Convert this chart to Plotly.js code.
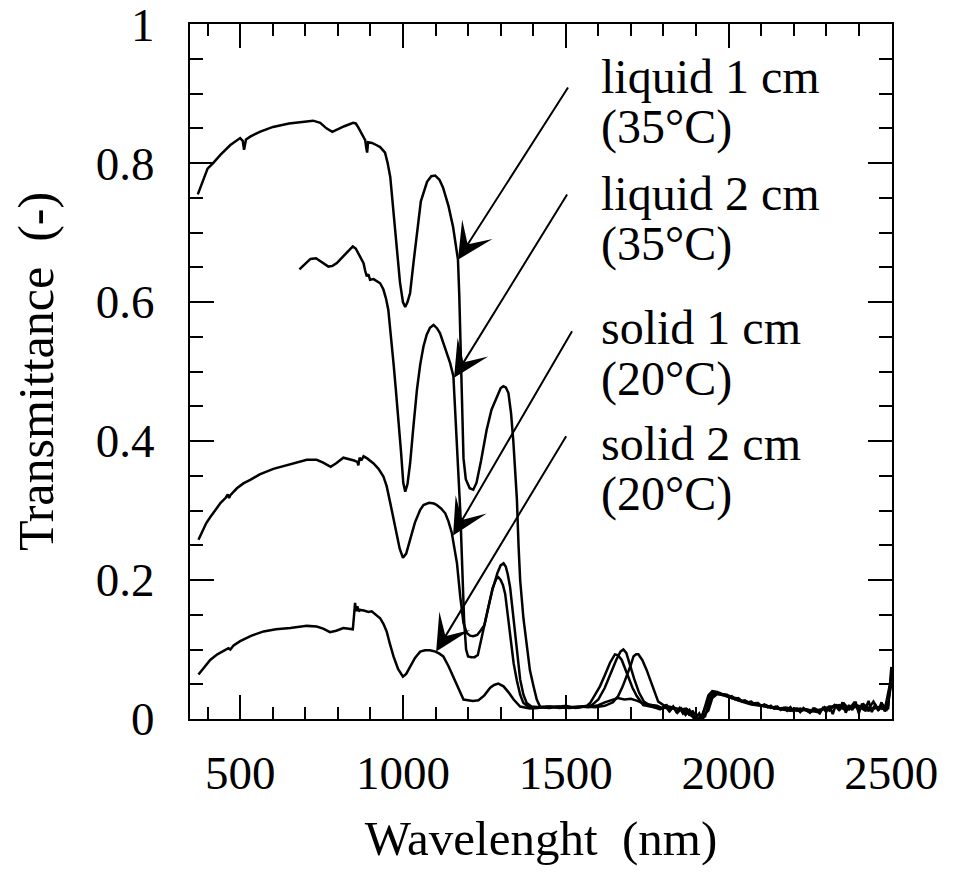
<!DOCTYPE html>
<html>
<head>
<meta charset="utf-8">
<script src="https://cdn.plot.ly/plotly-3.0.1.min.js"></script>
<style>
  html, body { margin: 0; padding: 0; background: #fff; }
  #chart { width: 961px; height: 880px; }
</style>
</head>
<body>
<div id="chart"></div>
<script>
// Transmittance spectra of the sample, liquid (35 °C) and solid (20 °C), 1 cm and 2 cm path.

const liquid1X = [370,385,400,417,440,470,500,508,512,518,531,560,601,650,700,724,746,765,783,800,820,847,855,862,875,884,888,890,893,905,918,930,945,953,961,968,976,984,991,1000,1007,1014,1022,1032,1043,1055,1074,1087,1099,1112,1123,1140,1154,1163,1169,1173,1176,1181,1186,1193,1205,1216,1226,1240,1257,1272,1288,1300,1308,1316,1324,1332,1339,1345,1350,1355,1360,1370,1380,1390,1401,1411,1421,1440,1470,1500,1530,1560,1580,1600,1620,1640,1655,1668,1677,1686,1695,1710,1725,1740,1760,1775,1790,1805,1818,1830,1843,1855,1868,1880,1892,1905,1918,1928,1938,1950,1965,1980,1995,2010,2025,2040,2055,2070,2085,2100,2115,2130,2145,2160,2175,2190,2205,2220,2235,2250,2265,2280,2295,2310,2325,2340,2355,2370,2385,2400,2415,2430,2445,2460,2475,2490,2500];
const liquid1Y = [0.755,0.775,0.792,0.800,0.812,0.826,0.836,0.832,0.819,0.834,0.838,0.845,0.852,0.857,0.860,0.861,0.858,0.850,0.845,0.849,0.853,0.858,0.857,0.852,0.842,0.833,0.820,0.815,0.830,0.829,0.826,0.823,0.815,0.800,0.780,0.745,0.700,0.660,0.628,0.600,0.593,0.600,0.613,0.655,0.700,0.745,0.773,0.781,0.782,0.776,0.765,0.738,0.708,0.682,0.661,0.610,0.556,0.450,0.375,0.345,0.332,0.330,0.340,0.372,0.416,0.445,0.464,0.476,0.479,0.477,0.469,0.440,0.400,0.360,0.316,0.250,0.200,0.145,0.104,0.070,0.047,0.028,0.018,0.017,0.018,0.016,0.017,0.018,0.020,0.028,0.045,0.068,0.085,0.097,0.100,0.095,0.080,0.058,0.038,0.025,0.019,0.017,0.014,0.019,0.011,0.017,0.009,0.015,0.006,0.013,0.002,0.000,0.003,0.018,0.034,0.040,0.039,0.036,0.035,0.031,0.030,0.026,0.025,0.022,0.023,0.019,0.020,0.016,0.018,0.014,0.016,0.012,0.015,0.011,0.014,0.010,0.015,0.011,0.017,0.012,0.020,0.013,0.022,0.014,0.023,0.012,0.021,0.015,0.025,0.013,0.020,0.014,0.075];

const liquid2X = [682,700,716,733,750,771,784,797,815,830,846,855,863,871,879,884,889,894,899,910,920,930,940,948,955,963,971,978,986,994,1001,1007,1014,1022,1032,1043,1053,1063,1073,1083,1094,1105,1114,1125,1135,1145,1155,1161,1166,1171,1176,1182,1188,1194,1200,1210,1220,1230,1245,1260,1275,1287,1293,1300,1307,1314,1322,1329,1340,1350,1360,1370,1385,1410,1440,1470,1500,1530,1560,1590,1620,1645,1661,1675,1687,1700,1708,1716,1723,1735,1748,1760,1769,1784,1800,1825,1850,1870,1888,1900,1915,1932,1942,1955,1970,1990,2010,2040,2070,2100,2130,2160,2190,2220,2250,2280,2310,2340,2370,2400,2430,2460,2485,2500];
const liquid2Y = [0.647,0.655,0.662,0.663,0.658,0.651,0.652,0.656,0.665,0.673,0.680,0.677,0.670,0.662,0.656,0.645,0.637,0.640,0.632,0.633,0.630,0.627,0.618,0.605,0.589,0.555,0.512,0.475,0.435,0.385,0.340,0.327,0.338,0.368,0.420,0.474,0.510,0.536,0.553,0.563,0.567,0.562,0.555,0.540,0.527,0.512,0.493,0.440,0.392,0.344,0.300,0.220,0.140,0.100,0.090,0.089,0.089,0.092,0.125,0.160,0.188,0.202,0.204,0.200,0.193,0.180,0.150,0.120,0.080,0.055,0.035,0.023,0.018,0.016,0.018,0.017,0.019,0.016,0.018,0.017,0.019,0.024,0.033,0.047,0.061,0.078,0.090,0.093,0.093,0.085,0.071,0.055,0.042,0.025,0.020,0.017,0.014,0.010,0.004,0.000,0.001,0.020,0.034,0.038,0.037,0.033,0.030,0.025,0.021,0.019,0.016,0.014,0.012,0.015,0.010,0.013,0.017,0.020,0.014,0.019,0.012,0.017,0.013,0.050];

const solid1X = [372,385,396,409,425,440,455,462,466,470,490,510,531,560,602,650,705,735,755,778,795,817,835,850,860,863,867,872,879,890,909,925,940,950,961,971,981,990,1000,1010,1022,1037,1053,1063,1080,1095,1104,1117,1130,1140,1150,1158,1166,1176,1186,1196,1206,1216,1228,1240,1250,1262,1275,1290,1300,1309,1316,1322,1329,1336,1344,1352,1360,1370,1380,1395,1420,1450,1480,1510,1540,1565,1575,1590,1605,1620,1636,1651,1660,1672,1682,1692,1705,1718,1738,1760,1790,1820,1845,1870,1885,1900,1920,1938,1950,1965,1985,2005,2030,2060,2090,2120,2150,2180,2210,2240,2270,2300,2330,2360,2390,2420,2450,2480,2500];
const solid1Y = [0.258,0.272,0.282,0.291,0.302,0.311,0.318,0.323,0.318,0.322,0.332,0.339,0.344,0.352,0.360,0.366,0.373,0.373,0.369,0.363,0.368,0.376,0.374,0.372,0.370,0.365,0.376,0.372,0.378,0.375,0.368,0.360,0.349,0.335,0.311,0.288,0.263,0.245,0.232,0.238,0.258,0.283,0.301,0.308,0.311,0.310,0.308,0.303,0.296,0.284,0.268,0.248,0.224,0.176,0.138,0.124,0.120,0.119,0.121,0.128,0.135,0.160,0.186,0.210,0.221,0.224,0.219,0.208,0.190,0.160,0.128,0.090,0.057,0.035,0.023,0.018,0.017,0.016,0.018,0.016,0.017,0.019,0.023,0.034,0.047,0.063,0.081,0.093,0.092,0.085,0.072,0.061,0.045,0.033,0.020,0.018,0.015,0.017,0.013,0.015,0.009,0.006,0.004,0.012,0.030,0.036,0.035,0.031,0.027,0.024,0.020,0.018,0.015,0.016,0.012,0.014,0.010,0.016,0.019,0.013,0.021,0.012,0.017,0.014,0.060];

const solid2X = [372,390,408,430,464,470,480,500,535,572,610,654,705,735,755,776,795,817,835,846,850,853,856,860,864,868,880,894,904,917,930,940,950,960,971,985,1000,1010,1022,1037,1053,1068,1083,1100,1112,1124,1140,1155,1168,1181,1186,1200,1215,1232,1250,1268,1280,1293,1309,1325,1340,1360,1390,1420,1450,1480,1510,1540,1570,1600,1620,1640,1660,1680,1700,1720,1740,1765,1780,1795,1810,1820,1830,1840,1850,1860,1870,1880,1890,1900,1910,1918,1928,1938,1948,1960,1975,1990,2000,2010,2020,2030,2040,2050,2060,2070,2080,2090,2100,2110,2120,2130,2140,2150,2160,2170,2180,2190,2200,2210,2220,2230,2240,2250,2260,2270,2280,2290,2300,2310,2320,2330,2340,2350,2360,2370,2380,2390,2400,2410,2420,2430,2440,2450,2460,2470,2480,2490,2500];
const solid2Y = [0.064,0.075,0.085,0.093,0.102,0.100,0.106,0.112,0.120,0.126,0.129,0.131,0.134,0.133,0.130,0.125,0.127,0.131,0.130,0.129,0.150,0.167,0.155,0.162,0.155,0.157,0.156,0.154,0.155,0.150,0.145,0.137,0.126,0.108,0.090,0.072,0.061,0.065,0.076,0.088,0.097,0.099,0.099,0.097,0.094,0.090,0.076,0.061,0.046,0.033,0.028,0.027,0.026,0.027,0.034,0.045,0.049,0.051,0.047,0.038,0.028,0.018,0.015,0.016,0.018,0.016,0.017,0.018,0.017,0.020,0.024,0.027,0.030,0.028,0.029,0.026,0.022,0.020,0.019,0.016,0.020,0.012,0.018,0.010,0.016,0.008,0.015,0.005,0.012,0.002,0.008,0.000,0.004,0.020,0.033,0.037,0.035,0.034,0.032,0.033,0.029,0.030,0.026,0.027,0.024,0.025,0.021,0.023,0.019,0.021,0.017,0.019,0.015,0.018,0.013,0.016,0.012,0.017,0.011,0.015,0.010,0.016,0.012,0.009,0.015,0.011,0.008,0.016,0.010,0.019,0.007,0.021,0.012,0.024,0.009,0.020,0.013,0.025,0.008,0.022,0.014,0.026,0.010,0.021,0.012,0.024,0.011,0.019,0.065];

// Labels and the arrows pointing from each label to its curve
const labelLines = [
  ['liquid 1 cm', '(35°C)'],
  ['liquid 2 cm', '(35°C)'],
  ['solid 1 cm', '(20°C)'],
  ['solid 2 cm', '(20°C)']
];
const labelX = 1603;
const labelLineY = [[0.924, 0.852], [0.756, 0.684], [0.563, 0.489], [0.396, 0.324]];
const arrowTailX = [1510, 1507, 1522, 1504];
const arrowTailY = [0.911, 0.757, 0.560, 0.409];
const arrowHeadX = [1169, 1157, 1154, 1102];
const arrowHeadY = [0.661, 0.491, 0.264, 0.097];

const serif = 'Liberation Serif, Times New Roman, serif';
const lineStyle = { color: '#000', width: 2.5 };

const traces = [
  [liquid1X, liquid1Y, 'liquid 1 cm (35°C)'],
  [liquid2X, liquid2Y, 'liquid 2 cm (35°C)'],
  [solid1X, solid1Y, 'solid 1 cm (20°C)'],
  [solid2X, solid2Y, 'solid 2 cm (20°C)']
].map(([x, y, name]) => ({
  x, y, name, type: 'scatter', mode: 'lines', line: lineStyle, hoverinfo: 'skip'
}));

const annotations = [];
labelLines.forEach((lines, i) => {
  lines.forEach((t, j) => {
    annotations.push({
      x: labelX, y: labelLineY[i][j], xref: 'x', yref: 'y',
      text: t, showarrow: false, xanchor: 'left', yanchor: 'middle',
      font: { family: serif, size: 48, color: '#000' }
    });
  });
  annotations.push({
    x: arrowHeadX[i], y: arrowHeadY[i], xref: 'x', yref: 'y',
    ax: arrowTailX[i], ay: arrowTailY[i], axref: 'x', ayref: 'y',
    text: '', showarrow: true, arrowhead: 3, arrowsize: 3, arrowwidth: 2,
    arrowcolor: '#000', standoff: 0, startstandoff: 0
  });
});

const axisCommon = {
  showline: true, linecolor: '#000', linewidth: 2, mirror: 'ticks',
  ticks: 'inside', tickcolor: '#000', tickwidth: 2, ticklen: 24,
  showgrid: false, zeroline: false, ticklabeloverflow: 'allow',
  tickfont: { family: serif, size: 47, color: '#000' }
};

const layout = {
  width: 961, height: 880,
  margin: { l: 190, r: 69, t: 24, b: 161 },
  paper_bgcolor: '#fff', plot_bgcolor: '#fff',
  showlegend: false,
  xaxis: Object.assign({}, axisCommon, {
    range: [346, 2502], tick0: 0, dtick: 500,
    minor: { dtick: 100, ticks: 'inside', ticklen: 12, tickwidth: 2, tickcolor: '#000', showgrid: false },
    ticklabelstandoff: 12,
    title: { text: 'Wavelenght  (nm)', font: { family: serif, size: 49, color: '#000' }, standoff: 22 }
  }),
  yaxis: Object.assign({}, axisCommon, {
    range: [0, 1.0001], tick0: 0, dtick: 0.2,
    minor: { dtick: 0.05, ticks: 'inside', ticklen: 13, tickwidth: 2, tickcolor: '#000', showgrid: false },
    ticklabelstandoff: 24,
    title: { text: 'Transmittance  (-)', font: { family: serif, size: 50, color: '#000' }, standoff: 26 }
  }),
  annotations
};

Plotly.newPlot('chart', traces, layout, { staticPlot: true, displayModeBar: false });
</script>
</body>
</html>
